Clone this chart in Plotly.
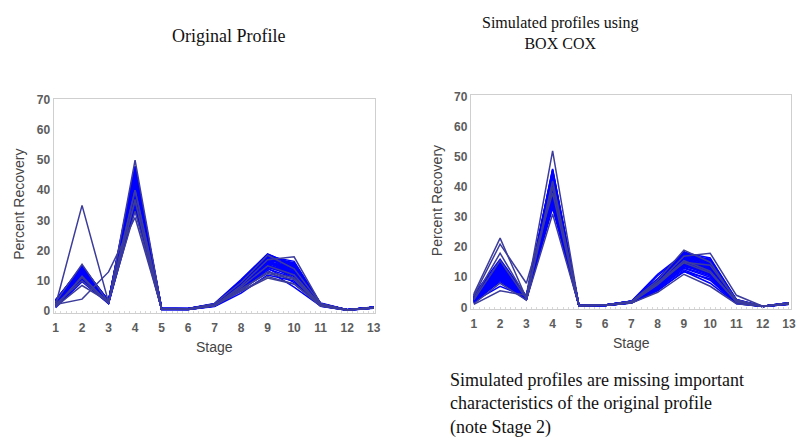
import plotly.graph_objects as go

# Stages on the x axis
stages = list(range(1, 14))

# Percent recovery per stage, original profiles
o01 = [2.0, 35.0, 3.0, 40.0, 0.8, 0.7, 2.0, 8.0, 15.0, 12.0, 2.0, 0.4, 1.2]
o02 = [2.2, 4.0, 13.0, 31.0, 0.9, 0.8, 1.8, 7.0, 13.0, 11.0, 2.2, 0.5, 1.1]
o03 = [1.5, 8.5, 3.2, 33.0, 0.7, 0.7, 2.1, 6.5, 11.0, 9.0, 1.8, 0.4, 1.2]
o04 = [3.0, 15.5, 2.8, 50.0, 1.0, 0.8, 2.5, 9.5, 18.5, 14.0, 2.5, 0.5, 1.3]
o05 = [2.5, 12.0, 3.0, 42.0, 0.8, 0.7, 2.0, 8.0, 16.0, 13.0, 2.0, 0.4, 1.2]
o06 = [3.5, 13.5, 3.3, 45.0, 0.9, 0.8, 2.2, 9.0, 17.0, 15.0, 2.4, 0.5, 1.3]
o07 = [1.8, 10.5, 2.6, 36.0, 0.6, 0.6, 1.7, 7.0, 14.0, 11.0, 1.8, 0.4, 1.1]
o08 = [2.8, 14.0, 3.5, 47.0, 1.1, 0.9, 2.4, 10.0, 18.0, 16.0, 2.6, 0.5, 1.3]
o09 = [2.2, 11.0, 2.9, 38.0, 0.7, 0.7, 1.9, 7.5, 15.0, 12.5, 2.0, 0.4, 1.2]
o10 = [3.2, 12.5, 3.1, 43.0, 0.8, 0.8, 2.1, 8.5, 16.5, 14.0, 2.2, 0.5, 1.2]
o11 = [1.2, 9.8, 2.5, 34.0, 0.6, 0.6, 1.6, 6.0, 12.0, 10.0, 1.6, 0.3, 1.0]
o12 = [3.8, 14.5, 3.4, 46.0, 1.0, 0.9, 2.3, 9.5, 17.5, 13.5, 2.3, 0.5, 1.3]
o13 = [2.6, 13.0, 3.0, 41.0, 0.8, 0.7, 2.0, 8.0, 15.5, 15.5, 2.1, 0.4, 1.2]
o14 = [2.0, 11.5, 2.7, 39.0, 0.7, 0.7, 1.8, 7.8, 14.5, 12.0, 1.9, 0.4, 1.1]
o15 = [3.0, 12.8, 3.2, 44.0, 0.9, 0.8, 2.2, 9.0, 16.8, 13.0, 2.3, 0.5, 1.3]
o16 = [2.4, 10.0, 2.8, 37.0, 0.7, 0.6, 1.9, 8.5, 17.0, 18.0, 2.5, 0.4, 1.2]
o17 = [3.4, 14.8, 3.6, 48.0, 1.0, 0.9, 2.6, 10.5, 19.0, 15.0, 2.7, 0.5, 1.4]
o18 = [1.6, 11.8, 2.6, 35.0, 0.6, 0.6, 1.7, 6.8, 13.5, 8.0, 1.7, 0.3, 1.1]
o19 = [2.9, 13.2, 3.1, 42.5, 0.8, 0.8, 2.1, 8.8, 16.2, 14.5, 2.2, 0.4, 1.2]
o20 = [2.1, 12.2, 2.9, 40.5, 0.7, 0.7, 2.0, 7.2, 15.2, 11.5, 2.0, 0.4, 1.2]
o21 = [3.6, 15.0, 3.3, 46.5, 0.9, 0.8, 2.4, 9.8, 18.2, 16.5, 2.4, 0.5, 1.3]
o22 = [2.3, 10.8, 2.8, 38.5, 0.7, 0.7, 1.8, 7.0, 14.8, 13.0, 1.9, 0.4, 1.1]
o23 = [2.7, 12.6, 3.0, 43.5, 0.8, 0.7, 2.1, 8.2, 16.0, 12.8, 2.1, 0.4, 1.2]
o24 = [1.9, 11.2, 2.7, 36.5, 0.6, 0.6, 1.8, 7.4, 12.5, 10.5, 1.8, 0.4, 1.1]
o25 = [3.1, 13.8, 3.2, 44.5, 0.9, 0.8, 2.3, 9.2, 17.8, 14.8, 2.4, 0.5, 1.3]
o26 = [2.5, 12.4, 3.0, 41.5, 0.8, 0.7, 2.0, 8.4, 15.8, 13.8, 2.1, 0.4, 1.2]
o27 = [2.0, 10.2, 2.7, 37.5, 0.7, 0.6, 1.9, 7.6, 14.2, 9.5, 1.9, 0.4, 1.1]
o28 = [3.3, 14.2, 3.4, 45.5, 0.9, 0.8, 2.3, 9.6, 17.2, 15.8, 2.5, 0.5, 1.3]
o29 = [2.6, 12.9, 3.1, 39.5, 0.8, 0.7, 2.0, 8.6, 16.4, 12.2, 2.1, 0.4, 1.2]
o30 = [1.4, 11.6, 2.6, 40.0, 0.7, 0.7, 1.9, 6.6, 11.5, 9.0, 1.7, 0.3, 1.1]
o31 = [2.4, 12.0, 3.0, 41.0, 0.8, 0.7, 2.0, 8.2, 16.3, 13.6, 2.1, 0.4, 1.2]
o32 = [3.0, 13.6, 3.2, 44.8, 0.9, 0.8, 2.2, 9.4, 17.6, 15.2, 2.4, 0.5, 1.3]
o33 = [1.7, 10.6, 2.7, 36.8, 0.6, 0.6, 1.8, 7.2, 14.6, 11.8, 1.8, 0.4, 1.1]
o34 = [2.9, 14.6, 3.3, 46.8, 1.0, 0.8, 2.3, 9.8, 18.4, 14.2, 2.4, 0.5, 1.3]
o35 = [2.2, 11.4, 2.9, 39.8, 0.7, 0.7, 1.9, 7.8, 15.4, 12.6, 2.0, 0.4, 1.2]
o36 = [3.4, 12.7, 3.1, 42.8, 0.8, 0.8, 2.1, 8.7, 16.6, 16.0, 2.3, 0.5, 1.3]
o37 = [2.0, 13.4, 2.9, 38.2, 0.7, 0.7, 1.9, 8.0, 15.6, 10.8, 2.0, 0.4, 1.2]
o38 = [2.7, 11.9, 3.0, 43.8, 0.8, 0.7, 2.1, 8.9, 17.4, 14.6, 2.2, 0.4, 1.2]
o39 = [3.1, 14.9, 3.4, 47.5, 1.0, 0.9, 2.4, 10.2, 18.8, 15.4, 2.5, 0.5, 1.3]
o40 = [2.3, 12.3, 2.8, 40.8, 0.7, 0.7, 2.0, 7.9, 15.0, 13.2, 2.0, 0.4, 1.2]

# Percent recovery per stage, profiles simulated with the Box-Cox model
s01 = [4.5, 23.0, 3.0, 40.0, 0.6, 0.8, 1.8, 8.0, 17.0, 18.0, 4.0, 0.4, 1.5]
s02 = [3.8, 21.0, 8.0, 38.0, 0.5, 0.7, 1.6, 7.5, 15.0, 14.0, 2.5, 0.4, 1.3]
s03 = [1.0, 5.5, 4.0, 52.0, 0.7, 0.8, 2.0, 9.0, 19.0, 15.0, 2.2, 0.4, 1.4]
s04 = [2.0, 7.0, 3.5, 46.0, 0.6, 0.7, 1.8, 8.5, 16.0, 13.0, 2.0, 0.4, 1.2]
s05 = [2.5, 15.5, 2.8, 42.0, 0.5, 0.7, 1.7, 7.8, 15.5, 12.0, 1.8, 0.4, 1.2]
s06 = [3.0, 13.0, 3.2, 44.0, 0.6, 0.8, 1.9, 8.2, 16.5, 14.5, 2.1, 0.4, 1.3]
s07 = [1.5, 10.0, 2.5, 36.0, 0.5, 0.6, 1.5, 6.5, 13.0, 10.0, 1.5, 0.3, 1.1]
s08 = [2.2, 11.5, 3.0, 40.5, 0.6, 0.7, 1.7, 7.0, 14.5, 12.5, 1.9, 0.4, 1.2]
s09 = [3.5, 14.0, 3.8, 43.0, 0.7, 0.8, 2.0, 9.5, 18.0, 15.5, 2.4, 0.4, 1.4]
s10 = [1.8, 9.0, 2.6, 33.0, 0.5, 0.6, 1.4, 5.5, 12.0, 8.0, 1.3, 0.3, 1.0]
s11 = [2.8, 12.5, 3.3, 41.0, 0.6, 0.7, 1.8, 7.8, 15.8, 13.5, 2.0, 0.4, 1.3]
s12 = [1.2, 8.0, 2.4, 31.0, 0.5, 0.6, 1.4, 5.0, 11.0, 7.0, 1.2, 0.3, 1.0]
s13 = [3.2, 12.0, 3.1, 39.0, 0.6, 0.7, 1.7, 10.5, 17.5, 16.0, 2.6, 0.4, 1.4]
s14 = [2.4, 10.8, 2.9, 37.5, 0.5, 0.7, 1.6, 6.8, 14.0, 11.0, 1.7, 0.4, 1.2]
s15 = [4.0, 14.5, 3.6, 45.0, 0.7, 0.8, 2.1, 9.0, 17.0, 14.0, 2.3, 0.4, 1.5]
s16 = [2.0, 11.0, 2.8, 38.5, 0.5, 0.6, 1.6, 7.2, 13.5, 12.0, 1.6, 0.3, 1.1]
s17 = [2.6, 12.8, 3.0, 42.5, 0.6, 0.7, 1.8, 8.0, 16.2, 13.8, 2.0, 0.4, 1.3]
s18 = [1.6, 9.5, 2.7, 35.0, 0.5, 0.6, 1.5, 6.2, 12.5, 9.0, 1.4, 0.3, 1.0]
s19 = [3.4, 13.5, 3.4, 43.5, 0.7, 0.8, 1.9, 8.8, 18.5, 15.0, 2.2, 0.4, 1.4]
s20 = [2.3, 10.5, 2.9, 39.5, 0.6, 0.7, 1.7, 7.4, 15.2, 12.8, 1.9, 0.4, 1.2]
s21 = [2.9, 18.0, 3.2, 41.5, 0.6, 0.7, 1.8, 8.4, 14.8, 11.5, 1.8, 0.4, 1.3]
s22 = [1.9, 8.5, 2.6, 36.5, 0.5, 0.6, 1.5, 6.0, 13.2, 10.5, 1.5, 0.3, 1.1]
s23 = [3.1, 12.2, 3.3, 44.5, 0.7, 0.8, 2.0, 11.0, 17.8, 14.8, 2.3, 0.4, 1.4]
s24 = [2.7, 11.8, 3.0, 40.0, 0.6, 0.7, 1.7, 7.6, 15.6, 13.2, 2.0, 0.4, 1.3]
s25 = [2.1, 10.2, 2.8, 37.0, 0.5, 0.6, 1.6, 6.6, 14.2, 11.8, 1.7, 0.3, 1.1]
s26 = [3.6, 15.0, 3.5, 45.5, 0.7, 0.8, 2.0, 9.2, 16.8, 14.2, 2.4, 0.4, 1.5]
s27 = [1.4, 9.2, 2.5, 34.0, 0.5, 0.6, 1.4, 5.8, 11.8, 9.5, 1.3, 0.3, 1.0]
s28 = [2.5, 12.0, 3.1, 41.8, 0.6, 0.7, 1.8, 8.0, 16.0, 12.6, 2.0, 0.4, 1.2]
s29 = [3.3, 13.2, 3.2, 42.8, 0.6, 0.8, 1.9, 8.6, 17.2, 15.2, 2.2, 0.4, 1.4]
s30 = [2.2, 10.6, 2.9, 38.0, 0.6, 0.7, 1.7, 7.0, 14.6, 12.2, 1.8, 0.4, 1.2]
s31 = [2.6, 11.2, 3.0, 40.8, 0.6, 0.7, 1.8, 7.8, 15.4, 13.0, 2.0, 0.4, 1.3]
s32 = [3.0, 13.8, 3.3, 43.8, 0.7, 0.8, 1.9, 8.9, 17.6, 14.6, 2.2, 0.4, 1.4]
s33 = [1.8, 9.8, 2.7, 36.2, 0.5, 0.6, 1.5, 6.4, 13.8, 10.8, 1.5, 0.3, 1.1]
s34 = [3.9, 14.8, 3.5, 44.8, 0.7, 0.8, 2.0, 9.4, 18.2, 16.4, 2.5, 0.4, 1.5]
s35 = [2.3, 11.6, 2.9, 39.2, 0.6, 0.7, 1.7, 7.3, 14.9, 12.4, 1.8, 0.4, 1.2]
s36 = [2.9, 12.6, 3.1, 42.2, 0.6, 0.7, 1.8, 8.3, 16.4, 13.6, 2.1, 0.4, 1.3]
s37 = [1.7, 10.4, 2.6, 37.8, 0.5, 0.6, 1.5, 6.9, 14.4, 11.2, 1.6, 0.3, 1.1]
s38 = [3.5, 13.0, 3.4, 45.8, 0.7, 0.8, 2.0, 9.0, 17.4, 15.8, 2.3, 0.4, 1.4]
s39 = [2.4, 11.4, 3.0, 40.2, 0.6, 0.7, 1.7, 7.7, 15.1, 12.9, 1.9, 0.4, 1.2]
s40 = [4.2, 16.0, 3.7, 43.2, 0.7, 0.8, 2.0, 8.7, 16.9, 14.9, 2.3, 0.4, 1.5]

original_profiles = [o01, o02, o03, o04, o05, o06, o07, o08, o09, o10,
                     o11, o12, o13, o14, o15, o16, o17, o18, o19, o20,
                     o21, o22, o23, o24, o25, o26, o27, o28, o29, o30,
                     o31, o32, o33, o34, o35, o36, o37, o38, o39, o40]
simulated_profiles = [s01, s02, s03, s04, s05, s06, s07, s08, s09, s10,
                      s11, s12, s13, s14, s15, s16, s17, s18, s19, s20,
                      s21, s22, s23, s24, s25, s26, s27, s28, s29, s30,
                      s31, s32, s33, s34, s35, s36, s37, s38, s39, s40]

# Profiles drawn in a darker navy tone (indices into the lists above)
original_dark = {0, 1, 2, 3, 15, 23, 29}
simulated_dark = {0, 1, 2, 4, 11, 20}

ytick_vals = [0, 10, 20, 30, 40, 50, 60, 70]

BLUE = "#0000ff"
NAVY = "#3c3c9c"
W, H = 803, 444

fig = go.Figure()


def add_profiles(profiles, dark, xa, ya):
    # light lines first, darker lines on top
    order = [i for i in range(len(profiles)) if i not in dark] + sorted(dark)
    for i in order:
        fig.add_trace(go.Scatter(
            x=stages, y=profiles[i], mode="lines",
            line=dict(color=NAVY if i in dark else BLUE, width=1.5),
            xaxis=xa, yaxis=ya, showlegend=False, hoverinfo="skip"))


add_profiles(original_profiles, original_dark, "x", "y")
add_profiles(simulated_profiles, simulated_dark, "x2", "y2")

tick_font = dict(family="Liberation Sans, Arial, sans-serif", size=12,
                 color="#5c5c5c", weight="bold")


def px_x(a, b):
    return [a / W, b / W]


def px_y(top, bottom):
    return [1 - bottom / H, 1 - top / H]


def xaxis_style(domain, rng, anchor):
    return dict(domain=domain, range=rng, anchor=anchor,
                tickmode="array", tickvals=stages, ticktext=[str(s) for s in stages],
                tickfont=tick_font, showgrid=False, zeroline=False,
                showline=True, linecolor="#cfcfcf", linewidth=1, mirror=True,
                ticks="outside", ticklen=3, tickcolor="rgba(0,0,0,0)",
                minor=dict(ticks="inside", ticklen=2, tickcolor="#d8d8d8",
                           dtick=0.2, tick0=1, showgrid=False))


def yaxis_style(domain, rng, anchor):
    return dict(domain=domain, range=rng, anchor=anchor,
                tickmode="array", tickvals=ytick_vals,
                tickfont=tick_font, showgrid=False, zeroline=False,
                showline=True, linecolor="#cfcfcf", linewidth=1, mirror=True,
                ticks="")


fig.update_layout(
    width=W, height=H, margin=dict(l=0, r=0, t=0, b=0),
    paper_bgcolor="white", plot_bgcolor="white", showlegend=False,
    xaxis=xaxis_style(px_x(53, 377), [0.925, 13.04], "y"),
    yaxis=yaxis_style(px_y(95, 315), [-0.65, 70.3], "x"),
    xaxis2=xaxis_style(px_x(474, 797), [0.887, 13.08], "y2"),
    yaxis2=yaxis_style(px_y(91, 311), [-0.65, 70.65], "x2"),
)

serif = "Liberation Serif, Times New Roman, serif"
sans = "Liberation Sans, Arial, sans-serif"


def note(text, x, y, size=18, family=serif, color="#111111", xanchor="center",
         textangle=0, align="center"):
    fig.add_annotation(text=text, x=x / W, y=1 - y / H, xref="paper", yref="paper",
                       showarrow=False, xanchor=xanchor, yanchor="middle",
                       textangle=textangle, align=align,
                       font=dict(family=family, size=size, color=color))


# Panel titles
note("Original Profile", 229, 31)
note("Simulated profiles using<br>BOX COX", 564, 28, size=16)

# Axis titles
note("Percent Recovery", 18, 203, family=sans, size=14, color="#444444", textangle=-90)
note("Percent Recovery", 440, 200, family=sans, size=14, color="#444444", textangle=-90)
note("Stage", 215, 350, family=sans, size=14, color="#444444")
note("Stage", 636, 346, family=sans, size=14, color="#444444")

# Comment under the simulated panel
note("Simulated profiles are missing important<br>characteristics of the original profile"
     "<br>(note Stage 2)", 451, 408, xanchor="left", align="left")

fig.write_html("out.html")
